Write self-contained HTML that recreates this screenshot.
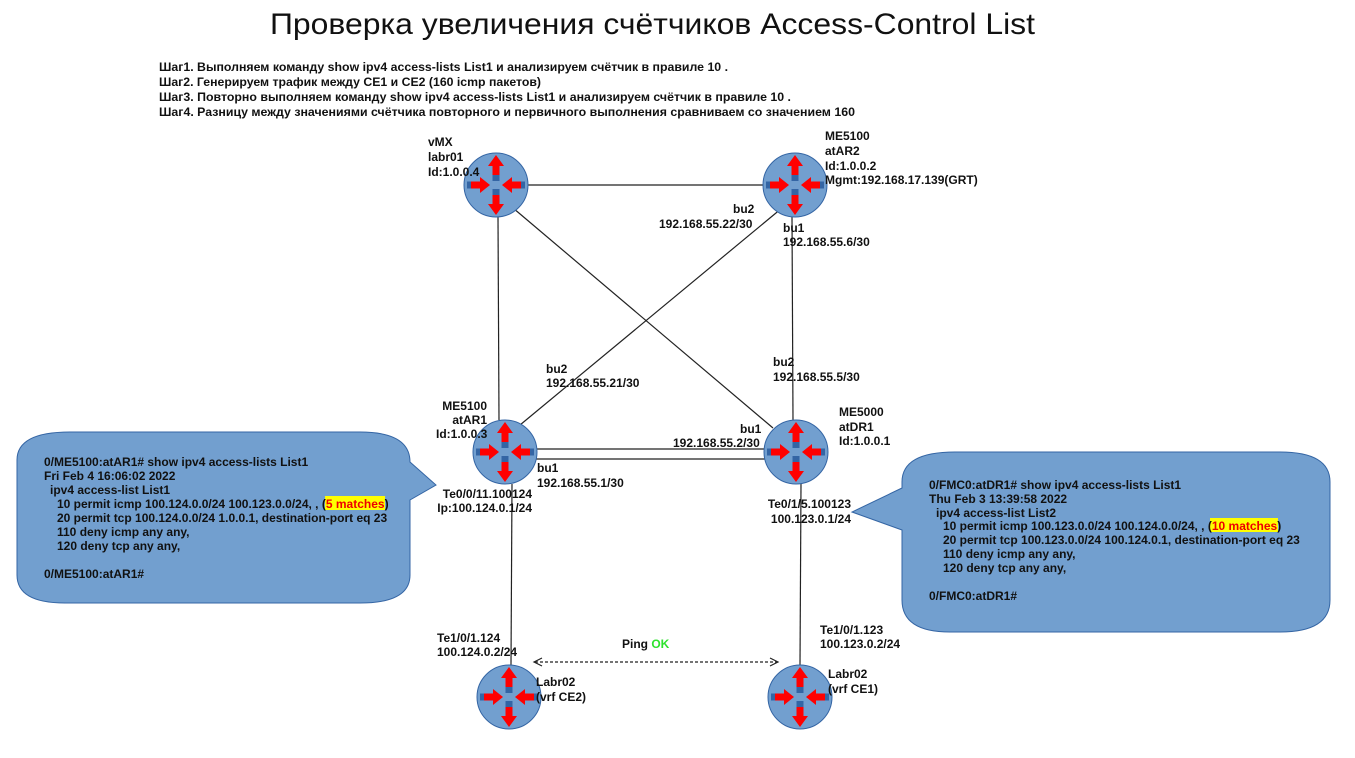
<!DOCTYPE html>
<html><head><meta charset="utf-8"><style>
body{margin:0;background:#fff;width:1355px;height:753px;overflow:hidden}
svg text{font-family:"Liberation Sans","DejaVu Sans",sans-serif;font-size:12px;font-weight:bold;fill:#111}
</style></head><body>
<svg width="1355" height="753" viewBox="0 0 1355 753" xmlns="http://www.w3.org/2000/svg">
<defs>
<g id="r">
<circle r="32" fill="#729fcf" stroke="#3465a4" stroke-width="1"/>
<rect x="-3.5" y="-10" width="7" height="6" fill="#3465a4"/>
<rect x="-3.5" y="4" width="7" height="6" fill="#3465a4"/>
<rect x="-29" y="-3.5" width="6" height="7" fill="#3465a4"/>
<rect x="23" y="-3.5" width="6" height="7" fill="#3465a4"/>
<polygon points="0,-30 8,-19 3.5,-19 3.5,-10 -3.5,-10 -3.5,-19 -8,-19" fill="#f00"/>
<polygon points="0,30 8,19 3.5,19 3.5,10 -3.5,10 -3.5,19 -8,19" fill="#f00"/>
<polygon points="-6,0 -16,-8 -16,-3.5 -25,-3.5 -25,3.5 -16,3.5 -16,8" fill="#f00"/>
<polygon points="6,0 16,-8 16,-3.5 25,-3.5 25,3.5 16,3.5 16,8" fill="#f00"/>
</g>
</defs>
<text x="270" y="34" textLength="765" lengthAdjust="spacingAndGlyphs" style="font-size:30px;font-weight:normal">Проверка увеличения счётчиков Access-Control List</text>
<text x="159" y="71" textLength="569" lengthAdjust="spacingAndGlyphs">Шаг1. Выполняем команду show ipv4 access-lists List1 и анализируем счётчик в правиле 10 .</text>
<text x="159" y="86" textLength="382" lengthAdjust="spacingAndGlyphs">Шаг2. Генерируем трафик между CE1 и CE2 (160 icmp пакетов)</text>
<text x="159" y="101" textLength="632" lengthAdjust="spacingAndGlyphs">Шаг3. Повторно выполняем команду show ipv4 access-lists List1 и анализируем счётчик в правиле 10 .</text>
<text x="159" y="116" textLength="696" lengthAdjust="spacingAndGlyphs">Шаг4. Разницу между значениями счётчика повторного и первичного выполнения сравниваем со значением 160</text>

<g stroke="#222" stroke-width="1.2" fill="none">
<line x1="528" y1="185" x2="763" y2="185"/>
<line x1="498" y1="217" x2="499" y2="420"/>
<line x1="513" y1="208" x2="773" y2="428"/>
<line x1="782" y1="208" x2="520" y2="425"/>
<line x1="792" y1="217" x2="793" y2="420"/>
<line x1="536" y1="449" x2="765" y2="449"/>
<line x1="536" y1="459" x2="765" y2="459"/>
<line x1="512" y1="484" x2="511" y2="665"/>
<line x1="801" y1="484" x2="800" y2="665"/>
<line x1="535" y1="662" x2="777" y2="662" stroke-dasharray="3,2"/>
<polyline points="542,658 534,662 542,666"/>
<polyline points="770,658 778,662 770,666"/>
</g>

<path d="M70,432 H360 Q410,432 410,462 L436,485 L410,500 V575 Q410,603 360,603 H65 Q17,603 17,575 V460 Q17,432 70,432 Z" fill="#729fcf" stroke="#3465a4"/>
<path d="M955,452 H1280 Q1330,452 1330,482 V600 Q1330,632 1280,632 H950 Q902,632 902,600 V530 L852,512 L902,488 V482 Q902,452 955,452 Z" fill="#729fcf" stroke="#3465a4"/>

<use href="#r" x="496" y="185"/>
<use href="#r" x="795" y="185"/>
<use href="#r" x="505" y="452"/>
<use href="#r" x="796" y="452"/>
<use href="#r" x="509" y="697"/>
<use href="#r" x="800" y="697"/>

<text x="428" y="146">vMX</text><text x="428" y="161">labr01</text><text x="428" y="176">Id:1.0.0.4</text>
<text x="825" y="140">ME5100</text><text x="825" y="155">atAR2</text><text x="825" y="170">Id:1.0.0.2</text><text x="825" y="184">Mgmt:192.168.17.139(GRT)</text>
<text x="733" y="213">bu2</text><text x="659" y="228">192.168.55.22/30</text>
<text x="783" y="232">bu1</text><text x="783" y="246">192.168.55.6/30</text>
<text x="546" y="373">bu2</text><text x="546" y="387">192.168.55.21/30</text>
<text x="773" y="366">bu2</text><text x="773" y="381">192.168.55.5/30</text>
<text x="487" y="410" text-anchor="end">ME5100</text><text x="487" y="424" text-anchor="end">atAR1</text><text x="436" y="438">Id:1.0.0.3</text>
<text x="839" y="416">ME5000</text><text x="839" y="431">atDR1</text><text x="839" y="445">Id:1.0.0.1</text>
<text x="740" y="433">bu1</text><text x="673" y="447">192.168.55.2/30</text>
<text x="537" y="472">bu1</text><text x="537" y="487">192.168.55.1/30</text>
<text x="532" y="498" text-anchor="end">Te0/0/11.100124</text><text x="532" y="512" text-anchor="end">Ip:100.124.0.1/24</text>
<text x="851" y="508" text-anchor="end">Te0/1/5.100123</text><text x="851" y="523" text-anchor="end">100.123.0.1/24</text>
<text x="437" y="642">Te1/0/1.124</text><text x="437" y="656">100.124.0.2/24</text>
<text x="820" y="634">Te1/0/1.123</text><text x="820" y="648">100.123.0.2/24</text>
<text x="622" y="648">Ping <tspan style="fill:#2ee22e">OK</tspan></text>
<text x="536" y="686">Labr02</text><text x="536" y="701">(vrf CE2)</text>
<text x="828" y="678">Labr02</text><text x="828" y="693">(vrf CE1)</text>

<rect x="325" y="496" width="60" height="14" fill="#ff0"/>
<g>
<text x="44" y="466">0/ME5100:atAR1# show ipv4 access-lists List1</text>
<text x="44" y="480">Fri Feb  4 16:06:02 2022</text>
<text x="50" y="494">ipv4 access-list List1</text>
<text x="57" y="508">10 permit icmp 100.124.0.0/24 100.123.0.0/24, , (<tspan style="fill:#e00">5 matches</tspan>)</text>
<text x="57" y="522">20 permit tcp 100.124.0.0/24 1.0.0.1, destination-port eq 23</text>
<text x="57" y="536">110 deny icmp any any,</text>
<text x="57" y="550">120 deny tcp any any,</text>
<text x="44" y="578">0/ME5100:atAR1#</text>
</g>
<rect x="1210" y="518" width="68" height="14" fill="#ff0"/>
<g>
<text x="929" y="489">0/FMC0:atDR1# show ipv4 access-lists List1</text>
<text x="929" y="503">Thu Feb  3 13:39:58 2022</text>
<text x="936" y="517">ipv4 access-list List2</text>
<text x="943" y="530">10 permit icmp 100.123.0.0/24 100.124.0.0/24, , (<tspan style="fill:#e00">10 matches</tspan>)</text>
<text x="943" y="544">20 permit tcp 100.123.0.0/24 100.124.0.1, destination-port eq 23</text>
<text x="943" y="558">110 deny icmp any any,</text>
<text x="943" y="572">120 deny tcp any any,</text>
<text x="929" y="600">0/FMC0:atDR1#</text>
</g>
</svg>
</body></html>
